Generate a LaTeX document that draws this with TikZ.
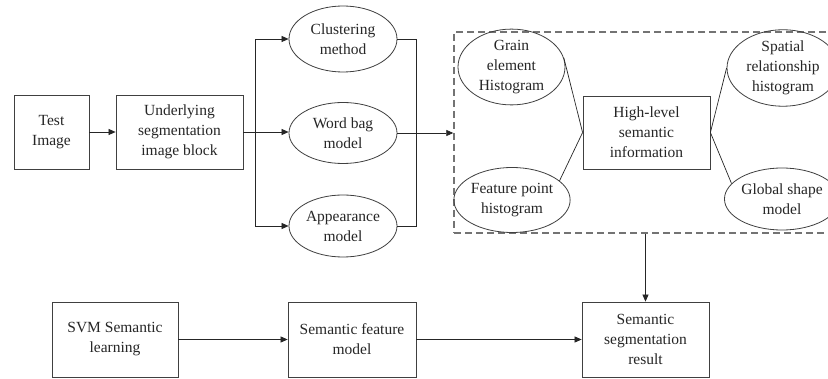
\documentclass[tikz,border=0pt]{standalone}
\usepackage{fontspec}
\setmainfont{Liberation Serif}
\usetikzlibrary{arrows.meta,shapes.geometric}
\begin{document}
\begin{tikzpicture}[x=1pt,y=-1pt,
  every node/.style={font=\fontsize{15.5}{20}\selectfont, align=center, inner sep=0pt, text=black!85},
  boxnode/.style={draw=black!75, line width=0.8pt, rectangle, minimum width=#1, minimum height=74pt},
  ellnode/.style={draw=black!75, line width=0.8pt, ellipse, minimum width=108pt, minimum height=#1},
  conn/.style={draw=black!85, line width=0.7pt},
  arr/.style={conn, -{Triangle[length=7pt,width=6pt]}},
  dashbox/.style={draw=black!55, line width=1.4pt, dash pattern=on 7pt off 4pt}
]
\clip (0,0) rectangle (828,379);
\fill[white] (0,0) rectangle (828,379);

% top row
\node[boxnode=75pt] (test) at (51.5,132) {Test\\Image};
\node[boxnode=127pt] (under) at (179.5,132) {Underlying\\segmentation\\image block};
\node[ellnode=66pt] (clus) at (343,39) {Clustering\\method};
\node[ellnode=61pt] (word) at (343,133) {Word bag\\model};
\node[ellnode=62pt] (app) at (343,226) {Appearance\\model};

% dashed group
\node[dashbox, rectangle, minimum width=388pt, minimum height=201pt] (grp) at (648,132.5) {};
\node[ellnode=65pt, minimum width=107pt] (grain) at (511.5,67) {Grain\\element\\Histogram};
\node[ellnode=65pt] (feat) at (512,200) {Feature point\\histogram};
\node[boxnode=127pt, minimum height=73pt] (high) at (646.5,132.5) {High-level\\semantic\\information};
\node[ellnode=65pt, minimum width=112pt] (spat) at (783,68) {Spatial\\relationship\\histogram};
\node[ellnode=62pt, minimum width=108pt] (glob) at (782,199) {Global shape\\model};

% bottom row
\node[boxnode=126pt, minimum height=75pt] (svm) at (115,339.5) {SVM Semantic\\learning};
\node[boxnode=128pt, minimum height=75pt] (sfm) at (352,339.5) {Semantic feature\\model};
\node[boxnode=127pt, minimum height=75pt] (seg) at (645.5,339.5) {Semantic\\segmentation\\result};

% coordinates
\coordinate (split) at (255,132);
\coordinate (merge) at (416,39);

% connectors
\draw[arr] (test) -- (under);
\draw[conn] (under.east |- split) -- (split);
\draw[arr] (split) |- (clus.west);
\draw[arr] (split) -- (word.west |- split);
\draw[arr] (split) |- (app.west);
\draw[conn] (clus.east) -| (merge) -- (merge |- app.east) -- (app.east);
\draw[arr] (word.east) -- (grp.west |- word.east);

\draw[conn] (grain.10) -- (high.west);
\draw[conn] (feat.22) -- (high.west);
\draw[conn] (high.east) -- (spat.180);
\draw[conn] (high.east) -- (glob.163);

\draw[arr] (grp.south -| seg.north) -- (seg.north);
\draw[arr] (svm) -- (sfm);
\draw[arr] (sfm) -- (seg);
\end{tikzpicture}
\end{document}
